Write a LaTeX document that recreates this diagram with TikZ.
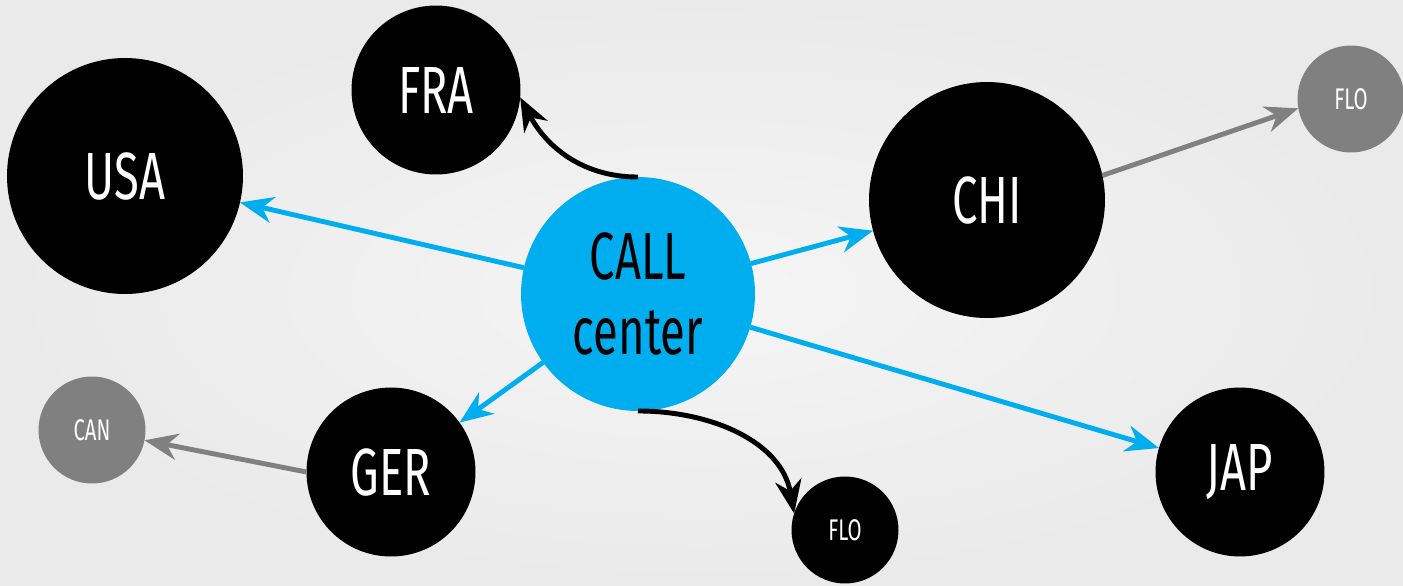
\documentclass[tikz,border=0pt]{standalone}
\usepackage{fontspec}
\setmainfont{Fira Sans}[FakeStretch=0.68]
\usetikzlibrary{arrows.meta}
\definecolor{callblue}{HTML}{00AEEF}
\definecolor{nodegray}{HTML}{808080}
\definecolor{bginner}{HTML}{F5F5F5}
\definecolor{bgouter}{HTML}{EAEAEA}
\begin{document}
\begin{tikzpicture}[x=0.02cm,y=-0.02cm,
  bignode/.style={circle,fill=black,text=white,inner sep=0pt,outer sep=0pt,minimum size=4.72cm,font=\fontsize{38}{43}\selectfont},
  midnode/.style={circle,fill=black,text=white,inner sep=0pt,outer sep=0pt,minimum size=3.38cm,font=\fontsize{38}{43}\selectfont},
  smallnode/.style={circle,fill=black,text=white,inner sep=0pt,outer sep=0pt,minimum size=2.14cm,font=\fontsize{17}{20}\selectfont},
  greynode/.style={smallnode,fill=nodegray},
  callnode/.style={circle,fill=callblue,text=black,inner sep=0pt,outer sep=0pt,minimum size=4.68cm,align=center,font=\fontsize{38}{43}\selectfont},
  tip/.style={-{Stealth[length=19pt,width=15pt,inset=6pt]}},
  blueline/.style={tip,draw=callblue,line width=2.8pt},
  greyline/.style={tip,draw=nodegray,line width=2.8pt},
  blackline/.style={tip,draw=black,line width=2.8pt}]
\useasboundingbox (0,0) rectangle (1403,585);
\shade[inner color=bginner,outer color=bgouter] (0,0) rectangle (1403,585);

\node[bignode] (usa) at (125,176) {USA};
\node[midnode] (fra) at (436,90) {FRA};
\node[bignode] (chi) at (987,200) {CHI};
\node[greynode] (flo1) at (1351,99) {FLO};
\node[callnode] (call) at (638,294) {CALL\\center};
\node[greynode] (can) at (92,430) {CAN};
\node[midnode] (ger) at (391,472) {GER};
\node[smallnode] (flo2) at (845,530) {FLO};
\node[midnode] (jap) at (1240,472) {JAP};

\draw[blueline] (call) -- (usa);
\draw[blueline] (call) -- (chi);
\draw[blueline] (call) -- (jap);
\draw[blueline] (call) -- (ger);
\draw[greyline] (ger.west) -- (can);
\draw[greyline] (chi.12) -- (flo1.190);
\draw[blackline] (call.north) to[out=180,in=-62] (fra.-5);
\draw[blackline] (call.south) to[out=0,in=100] (flo2.162);
\end{tikzpicture}
\end{document}
